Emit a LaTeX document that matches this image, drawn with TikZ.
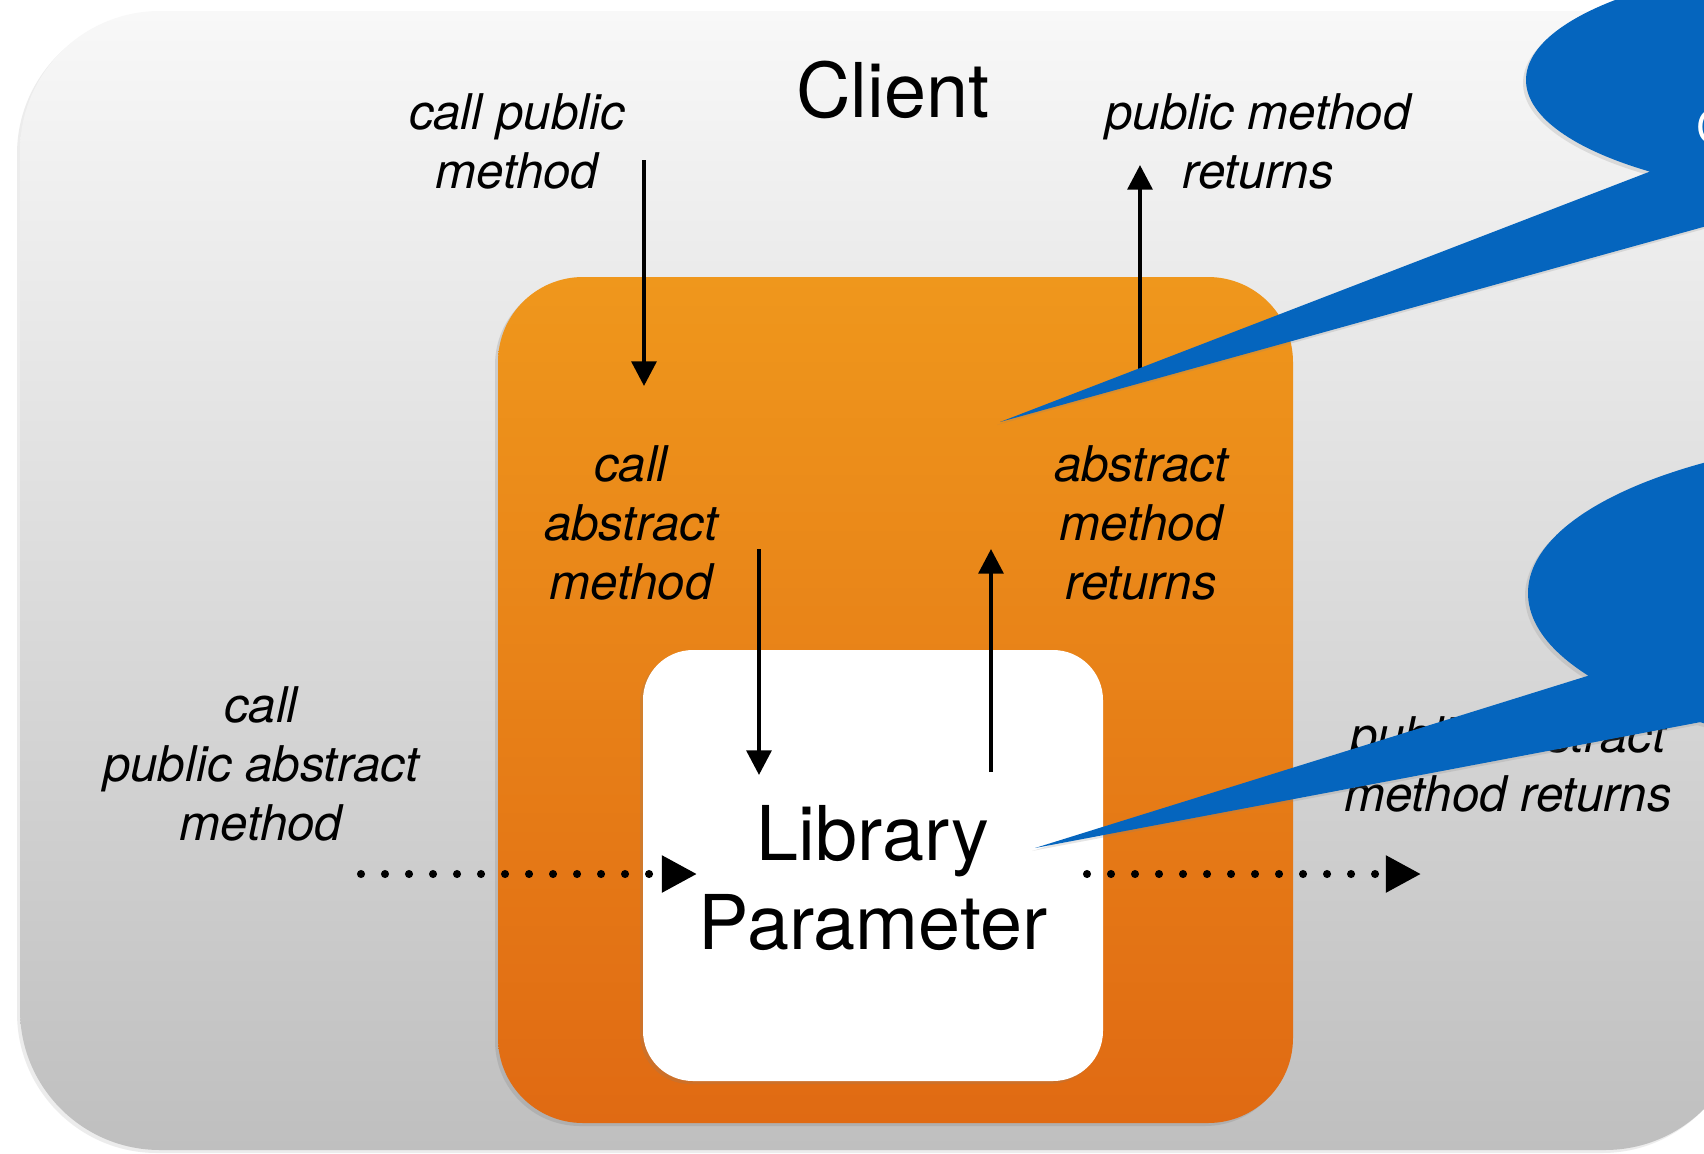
\documentclass[tikz,border=0pt]{standalone}
\usepackage{fontspec}
\setmainfont{TeX Gyre Heros}
\usetikzlibrary{arrows.meta,shadows,positioning}

\definecolor{clienttop}{HTML}{F8F8F8}
\definecolor{clientbot}{HTML}{BFBFBF}
\definecolor{libtop}{HTML}{EF971C}
\definecolor{libbot}{HTML}{E06A13}
\definecolor{bubble}{HTML}{0565BE}

\begin{document}
\begin{tikzpicture}[x=0.1mm,y=-0.1mm,
    lbl/.style={align=center,font=\fontsize{14pt}{16.8pt}\selectfont\itshape},
    big/.style={align=center,font=\fontsize{21.5pt}{25.3pt}\selectfont},
    arr/.style={-{Triangle[length=7pt,width=7pt]},line width=1.2pt},
    dotarr/.style={-{Triangle[length=10pt,width=10pt]},line width=2.3pt,line cap=round,dash pattern=on 0pt off 6.83pt},
    bubbleshape/.style={fill=bubble,drop shadow={opacity=0.2,shadow xshift=-0.3mm,shadow yshift=-0.3mm}}]
    \useasboundingbox (0,0) rectangle (1704,1153);
    \clip (0,0) rectangle (1704,1153);
    \fill[white] (0,0) rectangle (1704,1153);

    % Client
    \node[rounded corners=14mm,minimum width=172.5mm,minimum height=113.9mm,top color=clienttop,bottom color=clientbot,
        drop shadow={opacity=0.15,shadow xshift=-0.3mm,shadow yshift=-0.3mm}] (client) at (882.5,580.5) {};
    \node[big] (clienttxt) at (893,90) {Client};

    % Library and parameter
    \node[rounded corners=8.5mm,minimum width=79.5mm,minimum height=84.6mm,top color=libtop,bottom color=libbot,
        drop shadow={opacity=0.25,shadow xshift=-0.3mm,shadow yshift=-0.3mm}] (lib) at (895.5,700) {};
    \node[rounded corners=5mm,minimum width=46mm,minimum height=43.1mm,fill=white,
        drop shadow={opacity=0.2,shadow xshift=-0.3mm,shadow yshift=-0.3mm}] (param) at (873,865.5) {};
    \node[big] (paramtxt) at (873,878) {Library\\Parameter};

    % Labels
    \node[lbl] (cpm) at (517,141) {call public\\method};
    \node[lbl] (pmr) at (1258,141) {public method\\returns};
    \node[lbl] (cam) at (631,523) {call\\abstract\\method};
    \node[lbl] (amr) at (1141,523) {abstract\\method\\returns};
    \node[lbl] (cpam) at (261,764) {call\\public abstract\\method};
    \node[lbl] (pamr) at (1508,764) {public abstract\\method returns};

    % Arrows
    \coordinate (cpm-a) at (644,160);
    \coordinate (cpm-b) at (644,386);
    \coordinate (pmr-a) at (1140,370);
    \coordinate (pmr-b) at (1140,165);
    \coordinate (cam-a) at (759,549);
    \coordinate (cam-b) at (759,775);
    \coordinate (amr-a) at (991,772);
    \coordinate (amr-b) at (991,549);
    \coordinate (cpam-a) at (361,874);
    \coordinate (cpam-b) at (697,874);
    \coordinate (pamr-a) at (1087,874);
    \coordinate (pamr-b) at (1421,874);
    \draw[arr] (cpm-a) -- (cpm-b);
    \draw[arr] (pmr-a) -- (pmr-b);
    \draw[arr] (cam-a) -- (cam-b);
    \draw[arr] (amr-a) -- (amr-b);
    \draw[dotarr] (cpam-a) -- (cpam-b);
    \draw[dotarr] (pamr-a) -- (pamr-b);

    % Callouts
    \fill[bubbleshape] (1876,80) ellipse [x radius=35mm,y radius=12mm]
        (1000,422) -- (1750,214) -- (1750,133) -- cycle;
    \node[text=white,anchor=west,font=\fontsize{13pt}{15pt}\selectfont] (bubbletxt) at (1684,127) {C};
    \fill[bubbleshape] (1948,593) ellipse [x radius=42mm,y radius=16mm]
        (1035,848) -- (1780,707) -- (1780,616) -- cycle;
\end{tikzpicture}
\end{document}
